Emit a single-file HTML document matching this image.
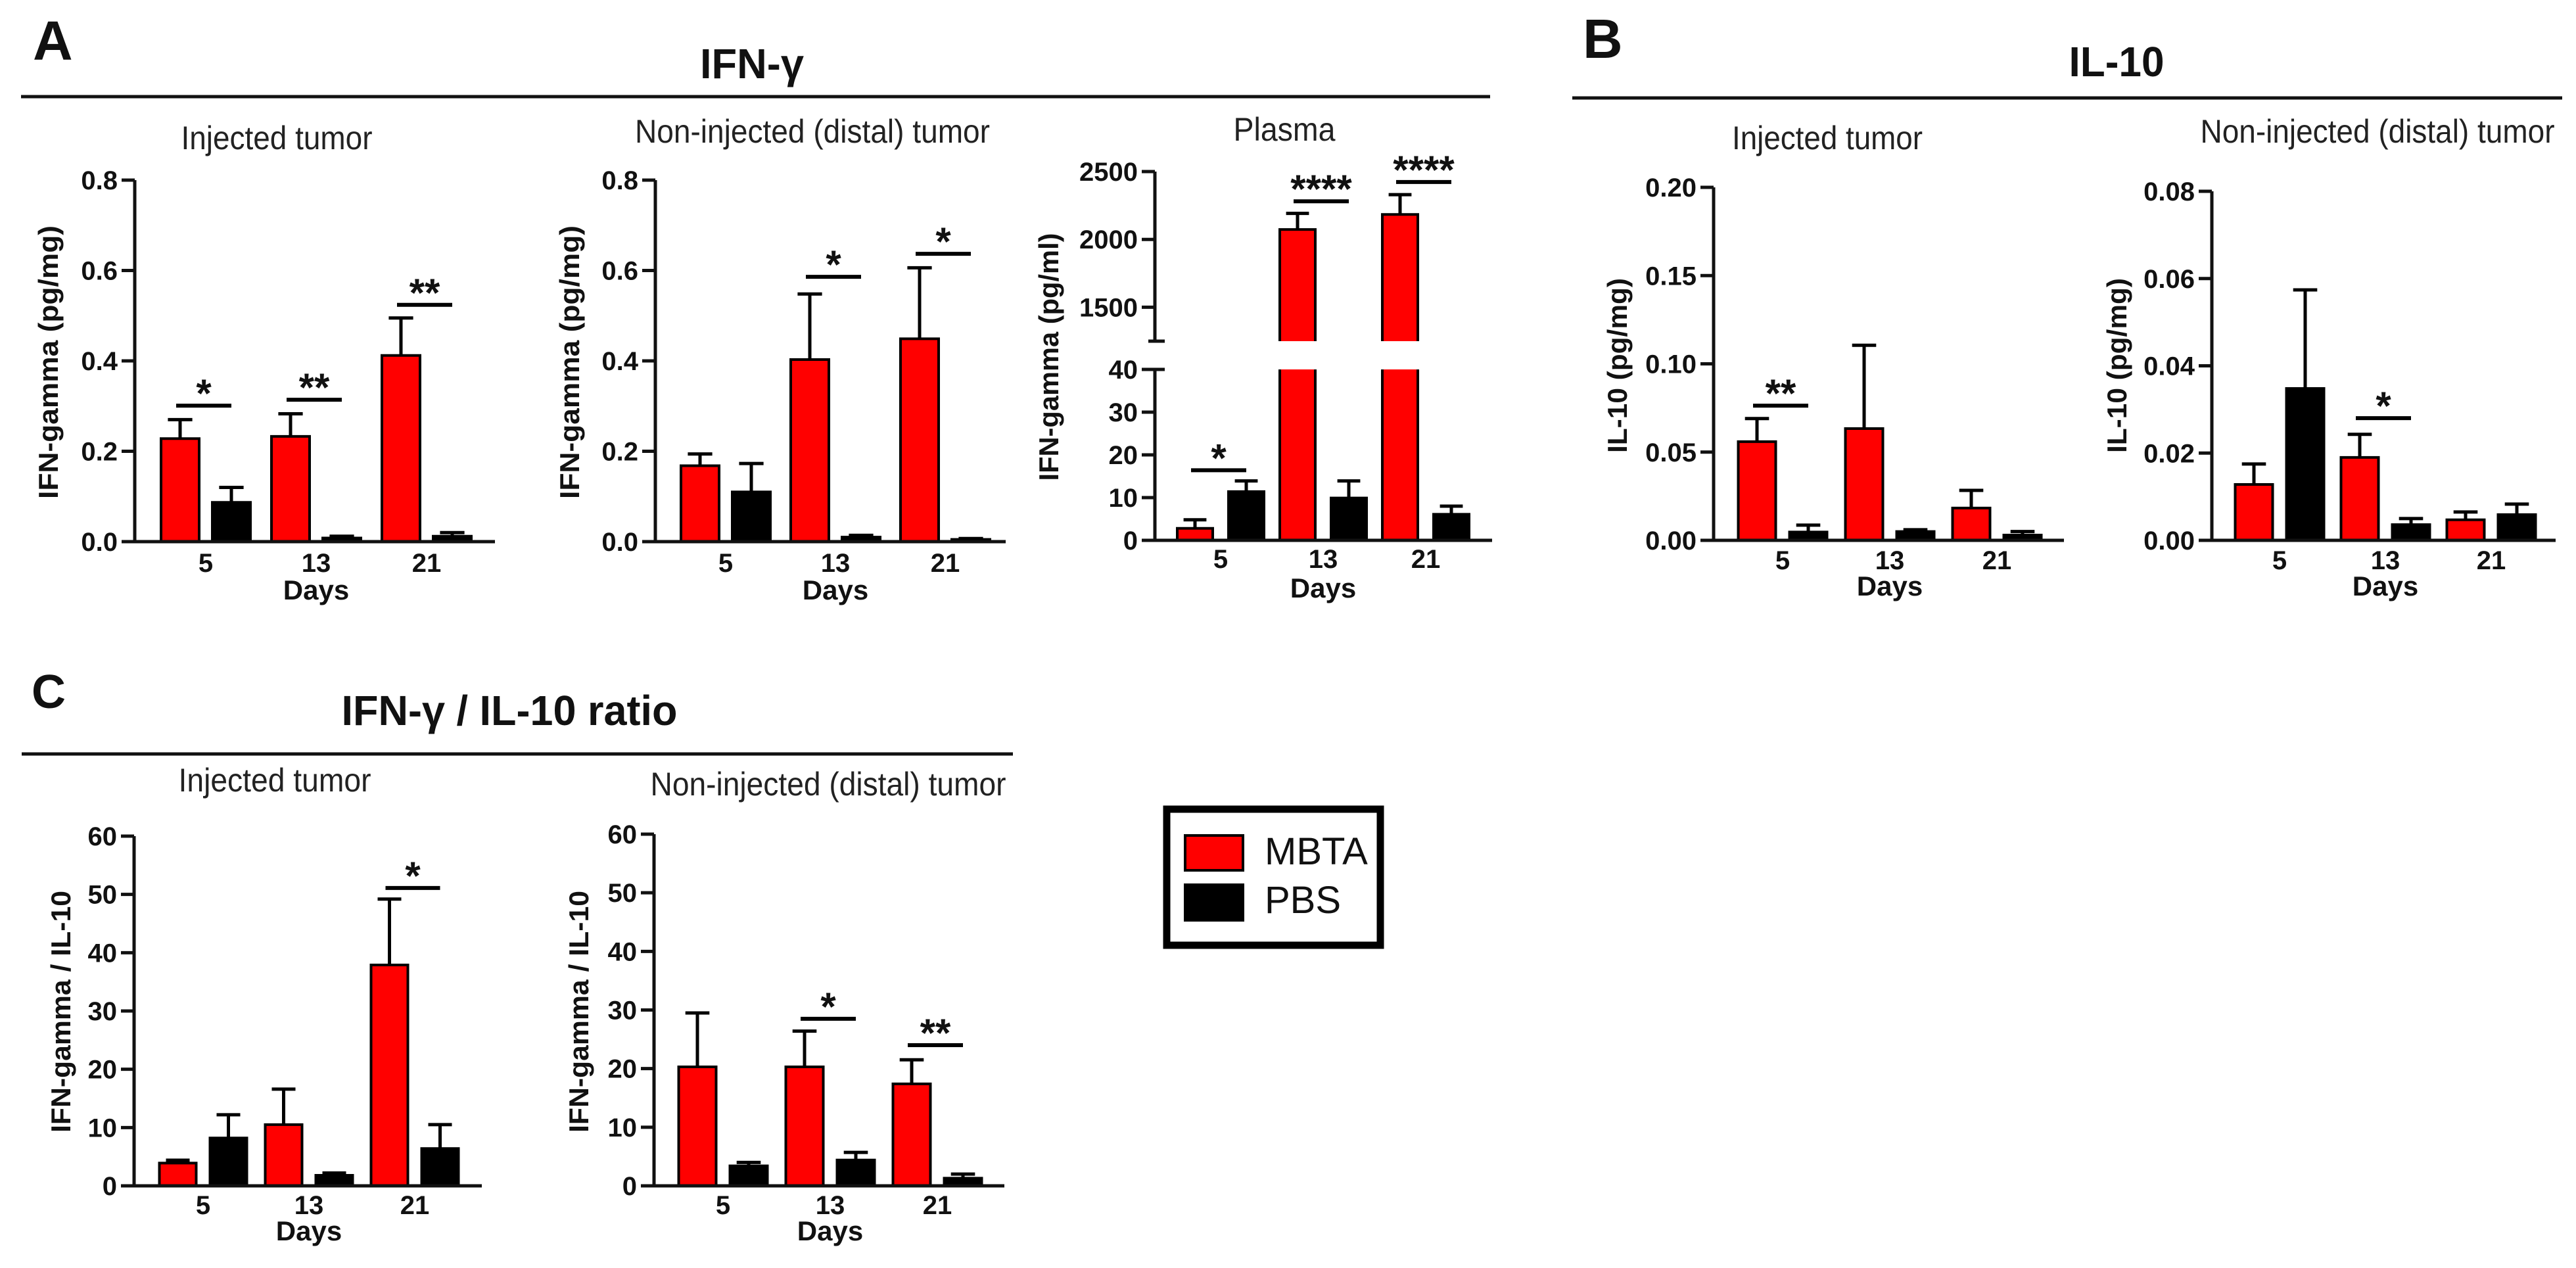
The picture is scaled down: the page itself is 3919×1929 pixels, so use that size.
<!DOCTYPE html>
<html><head><meta charset="utf-8"><style>
html,body{margin:0;padding:0;background:#fff;}
svg{display:block;}
text{font-family:"Liberation Sans",Arial,sans-serif;}
</style></head><body>
<svg id="fig" xmlns="http://www.w3.org/2000/svg" width="3919" height="1929" viewBox="0 0 3919 1929">
<rect width="3919" height="1929" fill="#fff"/>
<g font-weight="bold" fill="#111">
<text x="50" y="91" font-size="84">A</text>
<text x="2408" y="88" font-size="84">B</text>
<text x="48" y="1077" font-size="72">C</text>
<text x="1144" y="119" font-size="64" text-anchor="middle" textLength="158" lengthAdjust="spacingAndGlyphs">IFN-γ</text>
<text x="3220" y="116" font-size="64" text-anchor="middle" textLength="145" lengthAdjust="spacingAndGlyphs">IL-10</text>
<text x="775" y="1103" font-size="64" text-anchor="middle" textLength="511" lengthAdjust="spacingAndGlyphs">IFN-γ / IL-10 ratio</text>
</g>
<line x1="32" y1="147" x2="2267" y2="147" stroke="#111" stroke-width="5"/>
<line x1="2392" y1="149" x2="3898" y2="149" stroke="#111" stroke-width="5"/>
<line x1="33" y1="1147" x2="1541" y2="1147" stroke="#111" stroke-width="5"/>
<g>
<rect x="1775" y="1231" width="325" height="207" fill="#fff" stroke="#000" stroke-width="11"/>
<rect x="1803" y="1271" width="88" height="53" fill="#ff0000" stroke="#000" stroke-width="4"/>
<rect x="1801" y="1344" width="92" height="58" fill="#000"/>
<text x="1924" y="1315" font-size="58" fill="#111">MBTA</text>
<text x="1924" y="1389" font-size="58" fill="#111">PBS</text>
</g>
</svg>
<script>
const categories = ['5','13','21'];
// A1 IFN-gamma injected
const a1Mbta = [0.228, 0.233, 0.412];
const a1MbtaErr = [0.27, 0.283, 0.495];
const a1Pbs = [0.087, 0.008, 0.012];
const a1PbsErr = [0.12, 0.012, 0.02];
const a1SigGroups = [0, 1, 2];
const a1SigLevels = [0.301, 0.314, 0.524];
const a1SigLabels = ['*', '**', '**'];
const a1Ticks = [0, 0.2, 0.4, 0.6, 0.8];
const a1TickLabels = ['0.0','0.2','0.4','0.6','0.8'];
// A2 IFN-gamma non-injected
const a2Mbta = [0.168, 0.403, 0.449];
const a2MbtaErr = [0.194, 0.548, 0.606];
const a2Pbs = [0.11, 0.01, 0.005];
const a2PbsErr = [0.173, 0.014, 0.007];
const a2SigGroups = [1, 2];
const a2SigLevels = [0.586, 0.637];
const a2SigLabels = ['*', '*'];
// A3 plasma (broken axis)
const a3Mbta = [2.8, 2073, 2184];
const a3MbtaErr = [4.8, 2192, 2330];
const a3Pbs = [11.4, 9.9, 6.1];
const a3PbsErr = [13.9, 13.9, 8.0];
const a3SigGroups = [0, 1, 2];
const a3SigLevels = [16.4, 2281, 2423];
const a3SigLabels = ['*', '****', '****'];
const a3TicksLow = [0, 10, 20, 30, 40];
const a3TicksHigh = [1500, 2000, 2500];
// B1 IL-10 injected
const b1Mbta = [0.0559, 0.0633, 0.0183];
const b1MbtaErr = [0.069, 0.1105, 0.0283];
const b1Pbs = [0.0047, 0.005, 0.003];
const b1PbsErr = [0.0086, 0.006, 0.005];
const b1SigGroups = [0];
const b1SigLevels = [0.0763];
const b1SigLabels = ['**'];
const b1Ticks = [0, 0.05, 0.1, 0.15, 0.2];
const b1TickLabels = ['0.00','0.05','0.10','0.15','0.20'];
// B2 IL-10 non-injected
const b2Mbta = [0.0128, 0.019, 0.0047];
const b2MbtaErr = [0.0175, 0.0243, 0.0065];
const b2Pbs = [0.0348, 0.0036, 0.0059];
const b2PbsErr = [0.0574, 0.005, 0.0083];
const b2SigGroups = [1];
const b2SigLevels = [0.028];
const b2SigLabels = ['*'];
const b2Ticks = [0, 0.02, 0.04, 0.06, 0.08];
const b2TickLabels = ['0.00','0.02','0.04','0.06','0.08'];
// C1 ratio injected
const c1Mbta = [3.9, 10.5, 37.9];
const c1MbtaErr = [4.4, 16.6, 49.2];
const c1Pbs = [8.2, 1.8, 6.4];
const c1PbsErr = [12.2, 2.2, 10.5];
const c1SigGroups = [2];
const c1SigLevels = [51.1];
const c1SigLabels = ['*'];
const cTicks = [0, 10, 20, 30, 40, 50, 60];
const cTickLabels = ['0','10','20','30','40','50','60'];
// C2 ratio non-injected
const c2Mbta = [20.3, 20.3, 17.4];
const c2MbtaErr = [29.5, 26.4, 21.5];
const c2Pbs = [3.4, 4.4, 1.3];
const c2PbsErr = [4.0, 5.7, 2.0];
const c2SigGroups = [1, 2];
const c2SigLevels = [28.5, 24.0];
const c2SigLabels = ['*', '**'];

const NS = 'http://www.w3.org/2000/svg';
const svg = document.getElementById('fig');
function mk(tag, attrs, parent, txt){
  const e = document.createElementNS(NS, tag);
  for (const k in attrs) e.setAttribute(k, attrs[k]);
  if (txt !== undefined) e.textContent = txt;
  (parent || svg).appendChild(e);
  return e;
}

function drawPanel(p){
  const g = mk('g', {});
  
  
  const yScale = p.yScale;
  const base = p.yB;
  const st = mk('text', {x:p.subX, y:p.subY, 'font-size':50, 'text-anchor':'middle', fill:'#222', textLength:p.subW, lengthAdjust:'spacingAndGlyphs'}, g, p.subtitle);
  
  
  const yt = mk('text', {x:0, y:0, 'font-size':42, 'font-weight':'bold', 'text-anchor':'middle', fill:'#111', transform:'translate('+(p.ytX+15)+','+p.ytY+') rotate(-90)', textLength:p.ytW, lengthAdjust:'spacingAndGlyphs'}, g, p.ytitle);
  
  
  for (let i = 0; i < categories.length; i++){
    const c = p.c0 + i * p.sp;
    const series = [[p.mbta[i], p.mbtaErr[i], '#ff0000', c - p.gap/2 - p.bw, 'mbta'], [p.pbs[i], p.pbsErr[i], '#000', c + p.gap/2, 'pbs']];
    for (const s of series){
      const x = s[3], w = p.bw;
      const segs = p.segments ? p.segments(s[0]) : [[yScale(s[0]), base]];
      segs.forEach((sg, si) => {
        const r = mk('rect', {x:x+2, y:sg[0], width:w-4, height:Math.max(0, sg[1]-sg[0]), fill:s[2]}, g);
        
        
        const d = si === 0
          ? 'M'+(x+2)+','+sg[1]+' V'+sg[0]+' H'+(x+w-2)+' V'+sg[1]
          : 'M'+(x+2)+','+sg[0]+' V'+sg[1]+' M'+(x+w-2)+','+sg[0]+' V'+sg[1];
        const o = mk('path', {d:d, fill:'none', stroke:'#000', 'stroke-width':4}, g);
        
        
      });
      const bx = x + w/2, ye = yScale(s[1]), yv = yScale(s[0]);
      const eb = mk('path', {d:'M'+bx+','+yv+' V'+ye+' M'+(bx-p.bw*0.3)+','+ye+' H'+(bx+p.bw*0.3), stroke:'#000', 'stroke-width':5, fill:'none'}, g);
      
      
    }
    const xl = mk('text', {x:c, y:p.xlY, 'font-size':40, 'font-weight':'bold', 'text-anchor':'middle', fill:'#111'}, g, categories[i]);
    
    
  }
  for (let j = 0; j < p.sigG.length; j++){
    const c = p.c0 + p.sigG[j] * p.sp;
    const x1 = c - p.gap/2 - p.bw/2 - 6, x2 = c + p.gap/2 + p.bw/2;
    const y = yScale(p.sigL[j]);
    const l = mk('line', {x1:x1, y1:y, x2:x2, y2:y, stroke:'#000', 'stroke-width':6}, g);
    
    
    const t = mk('text', {x:(x1+x2)/2, y:y+2, 'font-size':60, 'font-weight':'bold', 'text-anchor':'middle', fill:'#111'}, g, p.sigT[j]);
    
    
  }
  const xa = mk('line', {x1:p.ax - 20, y1:base, x2:p.end, y2:base, stroke:'#111', 'stroke-width':5}, g);
  
  
  const dt = mk('text', {x:p.c0 + p.sp, y:p.daysY, 'font-size':42, 'font-weight':'bold', 'text-anchor':'middle', fill:'#111'}, g, 'Days');
  
  
  const axSegs = p.axisSegs || [[p.yT, base]];
  for (const a of axSegs){
    const ya = mk('line', {x1:p.ax, y1:a[0], x2:p.ax, y2:a[1], stroke:'#111', 'stroke-width':5}, g);
    
    
  }
  for (let k = 0; k < p.ticks.length; k++){
    const y = yScale(p.ticks[k]);
    const tk = mk('line', {x1:p.ax - 20, y1:y, x2:p.ax, y2:y, stroke:'#111', 'stroke-width':5}, g);
    
    
    const tl = mk('text', {x:p.ax - 26, y:y + 14, 'font-size':40, 'font-weight':'bold', 'text-anchor':'end', fill:'#111'}, g, p.tickLabels[k]);
    
    
  }
  if (p.extra) p.extra(g);
}

function lin(yT, yB, max){ return v => yB - (v / max) * (yB - yT); }

drawPanel({name:'chart-ifn-injected', mbta:a1Mbta, mbtaErr:a1MbtaErr, pbs:a1Pbs, pbsErr:a1PbsErr, sigG:a1SigGroups, sigL:a1SigLevels, sigT:a1SigLabels, ticks:a1Ticks, tickLabels:a1TickLabels,
  ax:205, yT:274, yB:824, yScale:lin(274,824,0.8), c0:313, sp:168, bw:62, gap:16, end:753,
  subtitle:'Injected tumor', subX:421, subY:227, subW:291, ytitle:'IFN-gamma (pg/mg)', ytX:73, ytY:551, ytW:416, xlY:870, daysY:912});
drawPanel({name:'chart-ifn-non-injected', mbta:a2Mbta, mbtaErr:a2MbtaErr, pbs:a2Pbs, pbsErr:a2PbsErr, sigG:a2SigGroups, sigL:a2SigLevels, sigT:a2SigLabels, ticks:a1Ticks, tickLabels:a1TickLabels,
  ax:997, yT:274, yB:824, yScale:lin(274,824,0.8), c0:1104, sp:167, bw:62, gap:16, end:1530,
  subtitle:'Non-injected (distal) tumor', subX:1236, subY:217, subW:540, ytitle:'IFN-gamma (pg/mg)', ytX:866, ytY:551, ytW:416, xlY:870, daysY:912});

const lowTop = 562, lowBot = 822, upTop = 261, upBot = 519, lowMax = 40, upMin = 1250, upMax = 2500;
function plasmaY(v){
  if (v <= lowMax) return lowBot - v / lowMax * (lowBot - lowTop);
  return upBot - (v - upMin) / (upMax - upMin) * (upBot - upTop);
}
drawPanel({name:'chart-ifn-plasma', mbta:a3Mbta, mbtaErr:a3MbtaErr, pbs:a3Pbs, pbsErr:a3PbsErr, sigG:a3SigGroups, sigL:a3SigLevels, sigT:a3SigLabels,
  ticks:a3TicksLow.concat(a3TicksHigh), tickLabels:a3TicksLow.concat(a3TicksHigh).map(String),
  ax:1757, yT:upTop, yB:lowBot, yScale:plasmaY, c0:1857, sp:156, bw:58, gap:20, end:2270,
  segments: v => v <= lowMax ? [[plasmaY(v), lowBot]] : [[plasmaY(v), upBot], [lowTop, lowBot]],
  axisSegs:[[upTop, upBot], [lowTop, lowBot]],
  extra: g => {
    for (const y of [upBot, lowTop]){
      const b = mk('line', {x1:1747, y1:y, x2:1772, y2:y, stroke:'#111', 'stroke-width':5}, g);
      
      
    }
  },
  subtitle:'Plasma', subX:1954, subY:214, subW:155, ytitle:'IFN-gamma (pg/ml)', ytX:1595, ytY:543, ytW:377, xlY:864, daysY:909});

drawPanel({name:'chart-il10-injected', mbta:b1Mbta, mbtaErr:b1MbtaErr, pbs:b1Pbs, pbsErr:b1PbsErr, sigG:b1SigGroups, sigL:b1SigLevels, sigT:b1SigLabels, ticks:b1Ticks, tickLabels:b1TickLabels,
  ax:2607, yT:285, yB:822, yScale:lin(285,822,0.2), c0:2712, sp:163, bw:61, gap:17, end:3140,
  subtitle:'Injected tumor', subX:2780, subY:227, subW:290, ytitle:'IL-10 (pg/mg)', ytX:2460, ytY:556, ytW:266, xlY:866, daysY:906});
drawPanel({name:'chart-il10-non-injected', mbta:b2Mbta, mbtaErr:b2MbtaErr, pbs:b2Pbs, pbsErr:b2PbsErr, sigG:b2SigGroups, sigL:b2SigLevels, sigT:b2SigLabels, ticks:b2Ticks, tickLabels:b2TickLabels,
  ax:3365, yT:291, yB:822, yScale:lin(291,822,0.08), c0:3468, sp:161, bw:61, gap:17, end:3888,
  subtitle:'Non-injected (distal) tumor', subX:3617, subY:217, subW:539, ytitle:'IL-10 (pg/mg)', ytX:3220, ytY:556, ytW:266, xlY:866, daysY:906});

drawPanel({name:'chart-ratio-injected', mbta:c1Mbta, mbtaErr:c1MbtaErr, pbs:c1Pbs, pbsErr:c1PbsErr, sigG:c1SigGroups, sigL:c1SigLevels, sigT:c1SigLabels, ticks:cTicks, tickLabels:cTickLabels,
  ax:204, yT:1272, yB:1804, yScale:lin(1272,1804,60), c0:309, sp:161, bw:60, gap:17, end:733,
  subtitle:'Injected tumor', subX:418, subY:1204, subW:293, ytitle:'IFN-gamma / IL-10', ytX:92, ytY:1539, ytW:368, xlY:1847, daysY:1887});
drawPanel({name:'chart-ratio-non-injected', mbta:c2Mbta, mbtaErr:c2MbtaErr, pbs:c2Pbs, pbsErr:c2PbsErr, sigG:c2SigGroups, sigL:c2SigLevels, sigT:c2SigLabels, ticks:cTicks, tickLabels:cTickLabels,
  ax:995, yT:1269, yB:1804, yScale:lin(1269,1804,60), c0:1100, sp:163, bw:61, gap:17, end:1528,
  subtitle:'Non-injected (distal) tumor', subX:1260, subY:1210, subW:541, ytitle:'IFN-gamma / IL-10', ytX:880, ytY:1539, ytW:368, xlY:1847, daysY:1887});
</script>
</body></html>
